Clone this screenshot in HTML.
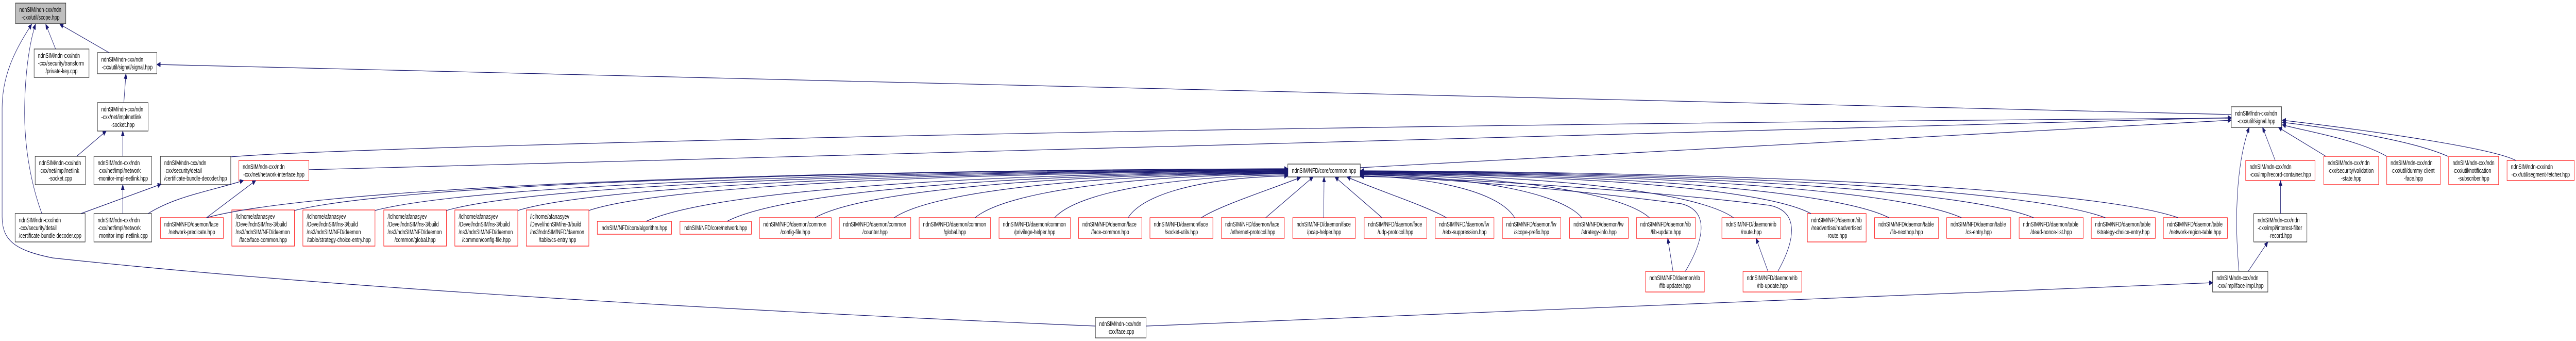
<!DOCTYPE html>
<html><head><meta charset="utf-8">
<style>
html,body{margin:0;padding:0;background:#fff;overflow:hidden;width:100%;height:100%;}
svg{display:block;width:100vw;height:100vh;}
text{font-family:"Liberation Sans",Arial,sans-serif;font-size:13px;fill:#000;text-anchor:middle;}
text.l{text-anchor:start;}
.n{fill:#fff;stroke:#333;stroke-width:1.3;}
.r{fill:#fff;stroke:#ff1a1a;stroke-width:1.3;}
.g{fill:#bfbfbf;stroke:#333;stroke-width:1.3;}
.e path{fill:none;stroke:#191970;stroke-width:1.2;marker-end:url(#a);}
</style></head>
<body>
<svg viewBox="0 0 7323 661" preserveAspectRatio="none" xmlns="http://www.w3.org/2000/svg">
<defs>
<marker id="a" markerWidth="12" markerHeight="10" refX="10" refY="4.5" orient="auto" markerUnits="userSpaceOnUse">
<path d="M0,0 L10,4.5 L0,9 z" fill="#191970" stroke="#191970" stroke-width="1"/>
</marker>
</defs>

<!-- NODES -->
<rect class="g" x="44" y="6" width="143" height="40"/>
<text class="l" x="55" y="23">ndnSIM/ndn-cxx/ndn</text><text x="115.5" y="38">-cxx/util/scope.hpp</text>

<rect class="n" x="97" y="95" width="156" height="55"/>
<text class="l" x="108" y="112">ndnSIM/ndn-cxx/ndn</text><text class="l" x="108" y="127">-cxx/security/transform</text><text x="175" y="142">/private-key.cpp</text>

<rect class="n" x="277" y="102" width="169" height="41"/>
<text class="l" x="288" y="119.5">ndnSIM/ndn-cxx/ndn</text><text x="361.5" y="134.5">-cxx/util/signal/signal.hpp</text>

<rect class="n" x="277" y="199" width="144" height="55"/>
<text class="l" x="288" y="216">ndnSIM/ndn-cxx/ndn</text><text class="l" x="288" y="231">-cxx/net/impl/netlink</text><text x="349" y="246">-socket.hpp</text>

<rect class="n" x="100" y="303" width="143" height="55"/>
<text class="l" x="111" y="320">ndnSIM/ndn-cxx/ndn</text><text class="l" x="111" y="335">-cxx/net/impl/netlink</text><text x="171.5" y="350">-socket.cpp</text>

<rect class="n" x="267" y="303" width="164" height="55"/>
<text class="l" x="278" y="320">ndnSIM/ndn-cxx/ndn</text><text class="l" x="278" y="335">-cxx/net/impl/network</text><text x="349" y="350">-monitor-impl-netlink.hpp</text>

<rect class="n" x="456" y="303" width="200" height="55"/>
<text class="l" x="467" y="320">ndnSIM/ndn-cxx/ndn</text><text class="l" x="467" y="335">-cxx/security/detail</text><text x="556" y="350">/certificate-bundle-decoder.hpp</text>

<rect class="r" x="679" y="311" width="199" height="39"/>
<text class="l" x="690" y="327.5">ndnSIM/ndn-cxx/ndn</text><text x="778.5" y="342.5">-cxx/net/network-interface.hpp</text>

<rect class="n" x="43" y="414" width="199" height="55"/>
<text class="l" x="54" y="431">ndnSIM/ndn-cxx/ndn</text><text class="l" x="54" y="446">-cxx/security/detail</text><text x="142.5" y="461">/certificate-bundle-decoder.cpp</text>

<rect class="n" x="267" y="414" width="164" height="55"/>
<text class="l" x="278" y="431">ndnSIM/ndn-cxx/ndn</text><text class="l" x="278" y="446">-cxx/net/impl/network</text><text x="349" y="461">-monitor-impl-netlink.cpp</text>

<rect class="r" x="456" y="422" width="179" height="40"/>
<text class="l" x="467" y="439">ndnSIM/NFD/daemon/face</text><text x="545.5" y="454">/network-predicate.hpp</text>

<rect class="r" x="659" y="407" width="178" height="70"/>
<text class="l" x="670" y="424">/lclhome/afanasyev</text><text class="l" x="670" y="439">/Devel/ndnSIM/ns-3/build</text><text class="l" x="670" y="454">/ns3/ndnSIM/NFD/daemon</text><text x="748" y="469">/face/face-common.hpp</text>

<rect class="r" x="861" y="407" width="205" height="70"/>
<text class="l" x="872" y="424">/lclhome/afanasyev</text><text class="l" x="872" y="439">/Devel/ndnSIM/ns-3/build</text><text class="l" x="872" y="454">/ns3/ndnSIM/NFD/daemon</text><text x="963.5" y="469">/table/strategy-choice-entry.hpp</text>

<rect class="r" x="1091" y="407" width="178" height="70"/>
<text class="l" x="1102" y="424">/lclhome/afanasyev</text><text class="l" x="1102" y="439">/Devel/ndnSIM/ns-3/build</text><text class="l" x="1102" y="454">/ns3/ndnSIM/NFD/daemon</text><text x="1180" y="469">/common/global.hpp</text>

<rect class="r" x="1293" y="407" width="179" height="70"/>
<text class="l" x="1304" y="424">/lclhome/afanasyev</text><text class="l" x="1304" y="439">/Devel/ndnSIM/ns-3/build</text><text class="l" x="1304" y="454">/ns3/ndnSIM/NFD/daemon</text><text x="1382.5" y="469">/common/config-file.hpp</text>

<rect class="r" x="1496" y="407" width="178" height="70"/>
<text class="l" x="1507" y="424">/lclhome/afanasyev</text><text class="l" x="1507" y="439">/Devel/ndnSIM/ns-3/build</text><text class="l" x="1507" y="454">/ns3/ndnSIM/NFD/daemon</text><text x="1585" y="469">/table/cs-entry.hpp</text>

<rect class="r" x="1698" y="429" width="211" height="25"/>
<text x="1803.5" y="446">ndnSIM/NFD/core/algorithm.hpp</text>

<rect class="r" x="1933" y="429" width="203" height="25"/>
<text x="2034.5" y="446">ndnSIM/NFD/core/network.hpp</text>

<rect class="r" x="2159" y="422" width="204" height="40"/>
<text class="l" x="2170" y="439">ndnSIM/NFD/daemon/common</text><text x="2261" y="454">/config-file.hpp</text>

<rect class="r" x="2386" y="422" width="203" height="40"/>
<text class="l" x="2397" y="439">ndnSIM/NFD/daemon/common</text><text x="2487.5" y="454">/counter.hpp</text>

<rect class="r" x="2613" y="422" width="203" height="40"/>
<text class="l" x="2624" y="439">ndnSIM/NFD/daemon/common</text><text x="2714.5" y="454">/global.hpp</text>

<rect class="r" x="2840" y="422" width="203" height="40"/>
<text class="l" x="2851" y="439">ndnSIM/NFD/daemon/common</text><text x="2941.5" y="454">/privilege-helper.hpp</text>

<rect class="r" x="3066" y="422" width="180" height="40"/>
<text class="l" x="3077" y="439">ndnSIM/NFD/daemon/face</text><text x="3156" y="454">/face-common.hpp</text>

<rect class="r" x="3269" y="422" width="179" height="40"/>
<text class="l" x="3280" y="439">ndnSIM/NFD/daemon/face</text><text x="3358.5" y="454">/socket-utils.hpp</text>

<rect class="r" x="3472" y="422" width="179" height="40"/>
<text class="l" x="3483" y="439">ndnSIM/NFD/daemon/face</text><text x="3561.5" y="454">/ethernet-protocol.hpp</text>

<rect class="r" x="3675" y="422" width="178" height="40"/>
<text class="l" x="3686" y="439">ndnSIM/NFD/daemon/face</text><text x="3764" y="454">/pcap-helper.hpp</text>

<rect class="r" x="3878" y="422" width="178" height="40"/>
<text class="l" x="3889" y="439">ndnSIM/NFD/daemon/face</text><text x="3967" y="454">/udp-protocol.hpp</text>

<rect class="r" x="4080" y="422" width="167" height="40"/>
<text class="l" x="4091" y="439">ndnSIM/NFD/daemon/fw</text><text x="4163.5" y="454">/retx-suppression.hpp</text>

<rect class="r" x="4271" y="422" width="166" height="40"/>
<text class="l" x="4282" y="439">ndnSIM/NFD/daemon/fw</text><text x="4354" y="454">/scope-prefix.hpp</text>

<rect class="r" x="4462" y="422" width="167" height="40"/>
<text class="l" x="4473" y="439">ndnSIM/NFD/daemon/fw</text><text x="4545.5" y="454">/strategy-info.hpp</text>

<rect class="r" x="4652" y="422" width="168" height="40"/>
<text class="l" x="4663" y="439">ndnSIM/NFD/daemon/rib</text><text x="4736" y="454">/fib-update.hpp</text>

<rect class="r" x="4895" y="422" width="167" height="40"/>
<text class="l" x="4906" y="439">ndnSIM/NFD/daemon/rib</text><text x="4978.5" y="454">/route.hpp</text>

<rect class="r" x="5138" y="414" width="167" height="55"/>
<text class="l" x="5149" y="431">ndnSIM/NFD/daemon/rib</text><text class="l" x="5149" y="446">/readvertise/readvertised</text><text x="5221.5" y="461">-route.hpp</text>

<rect class="r" x="5329" y="422" width="182" height="40"/>
<text class="l" x="5340" y="439">ndnSIM/NFD/daemon/table</text><text x="5420" y="454">/fib-nexthop.hpp</text>

<rect class="r" x="5534" y="422" width="182" height="40"/>
<text class="l" x="5545" y="439">ndnSIM/NFD/daemon/table</text><text x="5625" y="454">/cs-entry.hpp</text>

<rect class="r" x="5740" y="422" width="182" height="40"/>
<text class="l" x="5751" y="439">ndnSIM/NFD/daemon/table</text><text x="5831" y="454">/dead-nonce-list.hpp</text>

<rect class="r" x="5945" y="422" width="182" height="40"/>
<text class="l" x="5956" y="439">ndnSIM/NFD/daemon/table</text><text x="6036" y="454">/strategy-choice-entry.hpp</text>

<rect class="r" x="6150" y="422" width="182" height="40"/>
<text class="l" x="6161" y="439">ndnSIM/NFD/daemon/table</text><text x="6241" y="454">/network-region-table.hpp</text>

<rect class="n" x="3661" y="318" width="206" height="25"/>
<text x="3764" y="335">ndnSIM/NFD/core/common.hpp</text>

<rect class="r" x="4678" y="526" width="167" height="40"/>
<text class="l" x="4689" y="543">ndnSIM/NFD/daemon/rib</text><text x="4761.5" y="558">/fib-updater.hpp</text>

<rect class="r" x="4955" y="526" width="167" height="40"/>
<text class="l" x="4966" y="543">ndnSIM/NFD/daemon/rib</text><text x="5038.5" y="558">/rib-update.hpp</text>

<rect class="n" x="6290" y="526" width="157" height="40"/>
<text class="l" x="6301" y="543">ndnSIM/ndn-cxx/ndn</text><text x="6368.5" y="558">-cxx/impl/face-impl.hpp</text>

<rect class="n" x="3114" y="615" width="144" height="40"/>
<text class="l" x="3125" y="632">ndnSIM/ndn-cxx/ndn</text><text x="3186" y="647">-cxx/face.cpp</text>

<rect class="n" x="6343" y="207" width="143" height="40"/>
<text class="l" x="6354" y="224">ndnSIM/ndn-cxx/ndn</text><text x="6414.5" y="239">-cxx/util/signal.hpp</text>

<rect class="r" x="6384" y="311" width="197" height="39"/>
<text class="l" x="6395" y="327.5">ndnSIM/ndn-cxx/ndn</text><text x="6482.5" y="342.5">-cxx/impl/record-container.hpp</text>

<rect class="r" x="6606" y="303" width="156" height="55"/>
<text class="l" x="6617" y="320">ndnSIM/ndn-cxx/ndn</text><text class="l" x="6617" y="335">-cxx/security/validation</text><text x="6684" y="350">-state.hpp</text>

<rect class="r" x="6785" y="303" width="152" height="55"/>
<text class="l" x="6796" y="320">ndnSIM/ndn-cxx/ndn</text><text class="l" x="6796" y="335">-cxx/util/dummy-client</text><text x="6861" y="350">-face.hpp</text>

<rect class="r" x="6961" y="303" width="142" height="55"/>
<text class="l" x="6972" y="320">ndnSIM/ndn-cxx/ndn</text><text class="l" x="6972" y="335">-cxx/util/notification</text><text x="7032" y="350">-subscriber.hpp</text>

<rect class="r" x="7127" y="311" width="191" height="39"/>
<text class="l" x="7138" y="327.5">ndnSIM/ndn-cxx/ndn</text><text x="7222.5" y="342.5">-cxx/util/segment-fetcher.hpp</text>

<rect class="n" x="6407" y="414" width="151" height="55"/>
<text class="l" x="6418" y="431">ndnSIM/ndn-cxx/ndn</text><text class="l" x="6418" y="446">-cxx/impl/interest-filter</text><text x="6482.5" y="461">-record.hpp</text>

<!-- EDGES -->
<g class="e">
<path d="M158,95 L130,47"/>
<path d="M310,102 L170,47"/>
<path d="M119,414 C95,370 70,300 70,220 C70,140 85,80 101,47"/>
<path d="M3114,632 C2000,600 900,555 150,500 C40,485 6,465 6,420 L6,210 C6,140 50,90 90,47"/>
<path d="M352,199 L358,143"/>
<path d="M218,303 L302,254"/>
<path d="M349,303 L349,254"/>
<path d="M349,414 L349,358"/>
<path d="M230,414 L458,357"/>
<path d="M421,414 C500,380 600,370 692,350"/>
<path d="M587,422 L727,350"/>

<path d="M656,304 C900,289 3000,245 6343,229"/>
<path d="M878,329 L6343,228"/>
<path d="M6343,222 L446,125"/>
<path d="M3867,325 L6343,233"/>

<path d="M587,422 C894,365 2124,330 3661,327"/>
<path d="M837,408 C1119,360 2249,331 3661,328"/>
<path d="M1066,408 C1326,361 2364,332 3661,329"/>
<path d="M1269,408 C1508,361 2465,333 3661,330"/>
<path d="M1472,408 C1691,362 2567,334 3661,331"/>
<path d="M1674,408 C1873,362 2668,335 3661,332"/>
<path d="M1837,429 C2019,371 2749,336 3661,333"/>
<path d="M2067,429 C2226,372 2864,337 3661,334"/>
<path d="M2317,422 C2451,370 2989,338 3661,335"/>
<path d="M2542,422 C2654,370 3102,339 3661,336"/>
<path d="M2772,422 C2861,371 3217,340 3661,337"/>
<path d="M2998,422 C3064,372 3330,342 3661,339"/>
<path d="M3207,422 C3252,373 3434,344 3661,341"/>

<path d="M3415,422 C3470,398 3600,370 3697,344"/>
<path d="M3598,422 L3733,343"/>
<path d="M3763,422 L3764,343"/>
<path d="M3929,422 L3795,343"/>
<path d="M4112,422 C4050,398 3920,370 3829,343"/>

<path d="M4306,422 C4262,373 4087,344 3867,341"/>
<path d="M4497,422 C4434,372 4182,342 3867,339"/>
<path d="M4689,422 C4607,372 4278,341 3867,338"/>
<path d="M4928,422 C4822,371 4398,340 3867,337"/>
<path d="M5148,414 C5020,367 4508,339 3867,336"/>
<path d="M5370,422 C5220,370 4619,338 3867,335"/>
<path d="M5576,422 C5405,369 4722,337 3867,334"/>
<path d="M5781,422 C5590,369 4824,336 3867,333"/>
<path d="M5985,422 C5773,368 4926,335 3867,332"/>
<path d="M6192,422 C5960,367 5030,334 3867,331"/>

<path d="M4791,526 C4840,470 4865,410 4780,395 C4500,370 4100,345 3867,341"/>
<path d="M5054,526 C5100,470 5120,410 5030,398 C4700,370 4150,345 3867,342"/>
<path d="M4756,526 L4741,462"/>
<path d="M5026,526 L4992,462"/>

<path d="M6468,311 L6432,247"/>
<path d="M6365,526 C6352,430 6356,320 6394,247"/>
<path d="M6612,303 L6477,247"/>
<path d="M6785,303 C6700,270 6560,255 6488,242"/>
<path d="M6959,303 C6850,270 6620,248 6488,237"/>
<path d="M7152,311 C7080,285 6700,250 6488,233"/>
<path d="M6483,414 L6483,350"/>
<path d="M6391,526 L6447,469"/>
<path d="M3258,632 L6290,548"/>
</g>
</svg>
</body></html>
